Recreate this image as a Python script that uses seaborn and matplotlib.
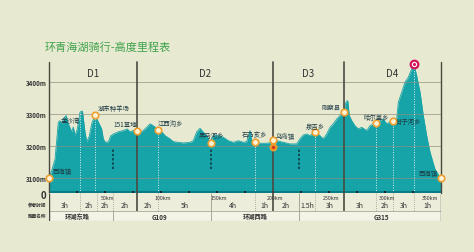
import matplotlib
matplotlib.use("Agg")
import matplotlib.pyplot as plt
import seaborn as sns
import pandas as pd

# ---------------- data ----------------
title = "环青海湖骑行-高度里程表"
profile_km = [0, 2.4, 5.4, 8.3, 9.8, 11.3, 12.8, 15.2, 17.2, 20.3, 21.7, 23.2, 25.3, 27.7, 29.9, 32.1, 33.7, 36,
              38.1, 41.1, 44, 47, 48.5, 50, 53, 55, 57.4, 61.9, 66.3, 69.9, 72.3, 75.3, 78.8, 81.3, 84.2, 87.2,
              90.2, 93.1, 97.6, 100.6, 103.6, 108, 111, 115.4, 119.9, 125.9, 128.8, 131.9, 134.8, 137.8, 140.8,
              143.8, 146.7, 151.2, 155.6, 160.1, 164.6, 169, 173.5, 176.5, 179.5, 181, 183.9, 188.4, 194.4, 198.8,
              200, 203.3, 209.2, 215.2, 221.2, 224.1, 227.1, 230.1, 233, 237.5, 240.4, 244.9, 247.9, 250.9, 253.8,
              256.9, 259.8, 262.8, 265.2, 266.7, 268.1, 270.3, 273.2, 276.2, 279.2, 283.7, 286.6, 289.6, 292,
              295.5, 298.5, 301.5, 306, 310.4, 311.9, 314.9, 317.9, 320.8, 323.8, 325.9, 328.3, 331.3, 334.2,
              337.2, 340.2, 344.6, 349.1, 350]
profile_elev = [3100, 3123, 3160, 3275, 3280, 3270, 3285, 3296, 3270, 3245, 3260, 3233, 3254, 3307, 3310, 3245,
                3213, 3232, 3270, 3298, 3276, 3254, 3223, 3213, 3213, 3232, 3238, 3245, 3249, 3254, 3245, 3249,
                3247, 3244, 3249, 3259, 3270, 3264, 3252, 3245, 3233, 3223, 3214, 3212, 3210, 3212, 3217, 3245,
                3256, 3244, 3233, 3212, 3233, 3233, 3228, 3217, 3212, 3217, 3212, 3214, 3249, 3217, 3212, 3209,
                3209, 3212, 3219, 3217, 3212, 3207, 3207, 3223, 3235, 3238, 3233, 3245, 3238, 3223, 3238, 3259,
                3270, 3285, 3296, 3308, 3338, 3343, 3296, 3280, 3264, 3254, 3259, 3249, 3264, 3270, 3273, 3280,
                3285, 3270, 3280, 3285, 3338, 3369, 3401, 3416, 3442, 3455, 3421, 3369, 3296, 3233, 3181, 3128,
                3102, 3100]

town_names = ["西海镇", "湖东种羊场", "151基地", "江西沟乡", "黑马河乡", "石乃亥乡", "乌岛镇",
              "泉吉乡", "刚察县", "哈尔盖乡", "甘子河乡", "西海镇"]
town_km = [0, 41.5, 78.8, 97.3, 144.6, 183.9, 200, 237.5, 263.0, 292, 307.1, 350]
town_elev = [3100, 3298, 3247, 3252, 3209, 3212, 3219, 3245, 3308, 3273, 3280, 3100]
side_label = "金沙湾"
side_km, side_elev = 18.8, 3282
side_line_km, side_line_elev = 27.7, 3307
lower_mark_km, lower_mark_elev = 200, 3197
peak_km, peak_elev = 325.9, 3457

day_labels = ["D1", "D2", "D3", "D4"]
day_bounds = [0, 78.6, 200, 263.4, 350]

y_ticks = [3100, 3200, 3300, 3400]
y_tick_labels = ["3100m", "3200m", "3300m", "3400m"]
km_ticks = [50, 100, 150, 200, 250, 300, 350]
km_tick_labels = ["50km", "100km", "150km", "200km", "250km", "300km", "350km"]
minor_km = [25, 50, 75, 100, 125, 150, 175, 200, 225, 250, 275, 300, 325]

time_bounds = [0, 27.7, 42.9, 57.1, 78.6, 97.3, 144.6, 183.9, 200, 223.2, 237.5, 263.4, 292, 307.1, 325.9, 350]
time_labels = ["3h", "2h", "2h", "2h", "2h", "5h", "4h", "1h", "2h", "1.5h", "3h", "3h", "2h", "3h", "1h"]
road_names = ["环湖东路", "G109", "环湖西路", "G315"]
road_bounds = [0, 57.1, 144.6, 223.2, 350]
row_labels = ["参考时间", "路面名称"]

# ---------------- style ----------------
sns.set_theme(style="white")
plt.rcParams['font.family'] = ['Noto Sans CJK SC', 'DejaVu Sans']

BG = "#e7e9d1"
TEAL = "#16a4a8"
DARK_TEAL = "#0a7d84"
LINE = "#4a4a40"
GRID = "#8f8f80"
TXT = "#1f3a44"

W, H = 474, 253
fig = plt.figure(figsize=(W / 100, H / 100), dpi=100, facecolor=BG)

def fx(px):
    return px / W

def fy(py):
    return 1 - py / H

ax = fig.add_axes([fx(49), fy(194), 392 / W, 131 / H])
ax.set_facecolor(BG)
y0, y1 = 3053, 3464
ax.set_xlim(0, 350)
ax.set_ylim(y0, y1)
for s in ax.spines.values():
    s.set_visible(False)

df = pd.DataFrame({"km": profile_km, "elev": profile_elev})
ax.fill_between(df["km"], y0, df["elev"], color=TEAL, lw=0, zorder=2)
sns.lineplot(data=df, x="km", y="elev", ax=ax, color=TEAL, lw=0.6, zorder=3)
ax.set_xlabel("")
ax.set_ylabel("")

# grid lines
for yt in y_ticks:
    ax.axhline(yt, color=GRID, lw=0.6, alpha=0.8, zorder=4)
ax.set_yticks(y_ticks)
ax.set_yticklabels(y_tick_labels, fontsize=4.5, fontweight="bold", color="#333333")
ax.tick_params(axis="y", length=0, pad=2)
ax.set_xticks([])

# baseline band and ticks
ax.axhline(y0 + 3, color=DARK_TEAL, lw=2.2, zorder=5)
ax.scatter(minor_km, [y0 + 3] * len(minor_km), marker="s", s=2.5, color="#1a2a2a", zorder=6, lw=0)

# white dotted guide lines from waypoints to baseline
guide_km = [side_line_km] + [town_km[i] for i in (1, 3, 5, 7, 9, 10)] + [peak_km]
guide_top = [side_line_elev] + [town_elev[i] for i in (1, 3, 5, 7, 9, 10)] + [peak_elev]
ax.vlines(guide_km, y0, guide_top, colors="white", linestyles=(0, (1, 1.6)), lw=0.7, alpha=0.85, zorder=4)

# dark vertical markers at road boundaries
for rk in road_bounds[1:-1]:
    ax.vlines(rk, 3127, 3190, colors="#124a55", linestyles=(0, (1.2, 1.0)), lw=1.4, zorder=4)

# day lines and borders
for db in day_bounds:
    ax.axvline(db, color=LINE, lw=1.2 if 0 < db < 350 else 1.0, zorder=7, clip_on=False)
for i, lab in enumerate(day_labels):
    ax.text((day_bounds[i] + day_bounds[i + 1]) / 2, 3430, lab, ha="center", va="center",
            fontsize=7, color="#333333", zorder=8)

# waypoint markers
tw = pd.DataFrame({"km": town_km, "elev": town_elev})
sns.scatterplot(data=tw, x="km", y="elev", ax=ax, s=22, facecolor="#fff4d6", edgecolor="#f0a030",
                linewidth=1.2, zorder=9, clip_on=False)
ax.scatter([lower_mark_km], [lower_mark_elev], s=22, facecolor="#f08a20", edgecolor="#f0a030",
           lw=1.0, zorder=9)
ax.scatter([lower_mark_km], [lower_mark_elev], s=4, facecolor="#d02020", lw=0, zorder=10)
ax.scatter([peak_km], [peak_elev], s=30, facecolor="white", edgecolor="#d4145a", lw=1.6, zorder=9,
           clip_on=False)
ax.scatter([peak_km], [peak_elev], s=5, facecolor="#d4145a", lw=0, zorder=10, clip_on=False)
ax.set_xlabel("")
ax.set_ylabel("")

# waypoint labels (offsets in pixels)
offsets = [(4, 7, "left"), (2, 7, "left"), (0, 7, "right"), (0, 7, "left"), (0, 8, "center"),
           (0, 8, "center"), (3, 4, "left"), (0, 6, "center"), (-3, 5, "right"), (0, 6, "center"),
           (3, 0, "left"), (-3, 5, "right")]
for name, k, e, (dx, dy, ha) in zip(town_names, town_km, town_elev, offsets):
    ax.annotate(name, (k, e), xytext=(dx, dy), textcoords="offset pixels", ha=ha, va="center",
                fontsize=4.6, color=TXT, zorder=11, annotation_clip=False)
ax.text(side_km, side_elev, side_label, ha="center", va="center", fontsize=4.6, color=TXT, zorder=11)

# ---------------- table ----------------
tax = fig.add_axes([fx(49), fy(222), 392 / W, 28 / H])
tax.set_xlim(0, 350)
tax.set_ylim(28, 0)
tax.axis("off")
tax.axhspan(0, 18, color="#eceddb", zorder=0)
tax.axhspan(18, 28, color="#f3f3e6", zorder=0)
tax.axhline(18, color="#a8a898", lw=0.6)
tax.axhline(27.7, color="#a8a898", lw=0.8)

for db in day_bounds[1:-1]:
    tax.vlines(db, 0, 18, colors=LINE, lw=1.2)
for bx in [0, 350]:
    tax.vlines(bx, 0, 28, colors=LINE, lw=1.0)
for rb in road_bounds[2:-1]:
    tax.vlines(rb, 0, 28, colors="#a8a898", lw=0.7)
tax.vlines(road_bounds[1], 18, 28, colors="#a8a898", lw=0.7)
solid = set(day_bounds) | set(road_bounds[2:-1])
for tb in time_bounds[1:-1]:
    if tb not in solid:
        tax.vlines(tb, 0, 18, colors="#9a9a8a", lw=0.6, linestyles=(0, (1, 1.5)))
for i, lab in enumerate(time_labels):
    tax.text((time_bounds[i] + time_bounds[i + 1]) / 2, 11.5, lab, ha="center", va="center",
             fontsize=5, color="#333333")
for k, lab in zip(km_ticks, km_tick_labels):
    if k == 350:
        tax.text(k - 2, 4.5, lab, ha="right", va="center", fontsize=3.8, color="#333333")
    else:
        tax.text(k + 2, 4.5, lab, ha="center", va="center", fontsize=3.8, color="#333333")
road_pos = [25.5, 99, 184, 297]
for p, lab in zip(road_pos, road_names):
    tax.text(p, 23, lab, ha="center", va="center", fontsize=4.5, fontweight="bold", color="#333333")

# ---------------- outer texts ----------------
fig.text(fx(45), fy(47), title, ha="left", va="center", fontsize=8, color="#3fa34d")
fig.text(fx(46), fy(196), "0", ha="right", va="center", fontsize=7, fontweight="bold", color="#333333")
fig.text(fx(46), fy(205.5), row_labels[0], ha="right", va="center", fontsize=3.3, fontweight="bold",
         color="#333333")
fig.text(fx(46), fy(217), row_labels[1], ha="right", va="center", fontsize=3.3, fontweight="bold",
         color="#333333")

fig.savefig("out.png", dpi=100, facecolor=BG)
